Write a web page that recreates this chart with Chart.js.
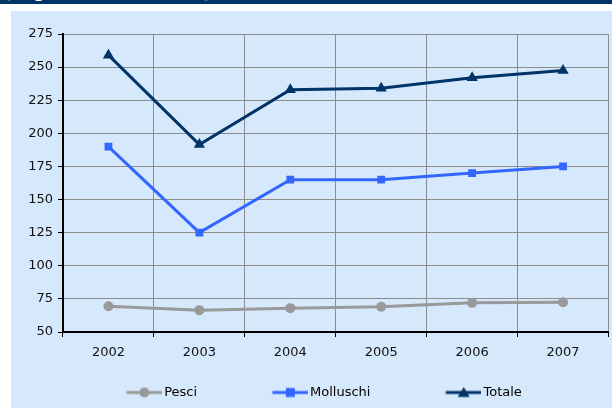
<!DOCTYPE html>
<html>
<head>
<meta charset="utf-8">
<script src="https://cdn.jsdelivr.net/npm/chart.js@4/dist/chart.umd.min.js"></script>
<style>
  html, body { margin: 0; padding: 0; background: #fff; }
  #page { position: relative; width: 612px; height: 408px; overflow: hidden; }
  #band { position: absolute; left: 0; top: 0; width: 612px; height: 4px; background: #003366; overflow: hidden; }
  #band span { position: absolute; left: 4px; top: -16px; font: bold 16px "DejaVu Sans", Verdana, sans-serif; line-height: 18.6px; color: #fff; white-space: nowrap; }
  #panel { position: absolute; left: 11px; top: 11px; width: 601px; height: 397px; background: #D6E8FC; overflow: hidden; }
</style>
</head>
<body>
<div id="page">
  <div id="band"><span>(migliaia di tonnellate)</span></div>
  <div id="panel"><canvas id="chartCanvas" width="604" height="397"></canvas></div>
</div>
<script>
const years = ["2002", "2003", "2004", "2005", "2006", "2007"];
const pesci = [69.5, 66.5, 68, 69, 72, 72.5];
const molluschi = [190, 125, 165, 165, 170, 175];
const totale = [259, 191.5, 233, 234, 242, 247.5];
const yTicks = [50, 75, 100, 125, 150, 175, 200, 225, 250, 275];

const FONT = "'DejaVu Sans', Verdana, sans-serif";
const BOX_W = 96.5;     // legend box width (sets spacing between items)
const LEGEND_SHIFT = 21.5;

// legend sample: line with marker, reaching to just before the label text
function legendSample(color, shape) {
  const c = document.createElement("canvas");
  const iw = BOX_W + 9, w = 36;
  c.width = iw; c.height = 12;
  const g = c.getContext("2d");
  g.strokeStyle = color; g.fillStyle = color; g.lineWidth = 3;
  g.beginPath(); g.moveTo(iw - w, 6); g.lineTo(iw, 6); g.stroke();
  const cx = iw - w / 2;
  g.beginPath();
  if (shape === "circle") g.arc(cx, 6, 5, 0, Math.PI * 2);
  else if (shape === "rect") g.rect(cx - 4.5, 1.5, 9, 9);
  else { g.moveTo(cx, 0.5); g.lineTo(cx + 6, 10.5); g.lineTo(cx - 6, 10.5); g.closePath(); }
  g.fill();
  return c;
}

const series = [
  { label: "Pesci", data: pesci, color: "#999999", shape: "circle", r: 5 },
  { label: "Molluschi", data: molluschi, color: "#3366FF", shape: "rect", r: 5.5 },
  { label: "Totale", data: totale, color: "#003366", shape: "triangle", r: 6.5 },
];

const shiftLegend = {
  id: "shiftLegend",
  afterLayout(chart) {
    if (chart.legend) {
      chart.legend.left -= LEGEND_SHIFT; chart.legend.right -= LEGEND_SHIFT;
      chart.legend.top += 1; chart.legend.bottom += 1;
    }
  },
};

new Chart(document.getElementById("chartCanvas"), {
  type: "line",
  data: {
    labels: years,
    datasets: series.map(s => ({
      label: s.label,
      data: s.data,
      borderColor: s.color,
      backgroundColor: s.color,
      borderWidth: 3,
      pointStyle: s.shape,
      pointRadius: s.r,
      pointBorderWidth: 0,
      pointHoverRadius: s.r,
      tension: 0,
    })),
  },
  options: {
    responsive: false,
    animation: false,
    layout: { padding: { left: 0, right: 0, top: 23, bottom: 0 } },
    plugins: {
      tooltip: { enabled: false },
      legend: {
        position: "bottom",
        labels: {
          usePointStyle: true,
          pointStyleWidth: BOX_W,
          padding: 10,
          color: "#111",
          font: { family: FONT, size: 13 },
          generateLabels: () => series.map((s, i) => ({
            text: s.label,
            datasetIndex: i,
            pointStyle: legendSample(s.color, s.shape),
            fillStyle: s.color,
            strokeStyle: s.color,
            lineWidth: 0,
            hidden: false,
          })),
        },
      },
    },
    scales: {
      x: {
        offset: true,
        grid: { offset: true, color: "#8c8c8c", lineWidth: 1, tickColor: "#000", tickLength: 5 },
        border: { color: "#000", width: 2 },
        ticks: { color: "#111", font: { family: FONT, size: 13 }, padding: 8, maxRotation: 0 },
        afterFit: (s) => { s.height = 43; },
      },
      y: {
        min: 50,
        max: 275,
        afterBuildTicks: (s) => { s.ticks = yTicks.map(v => ({ value: v })); },
        grid: { color: "#8c8c8c", lineWidth: 1, tickColor: "#000", tickLength: 5 },
        border: { color: "#000", width: 2 },
        ticks: { color: "#111", font: { family: FONT, size: 13 }, padding: 5 },
        afterFit: (s) => { s.width = 52; },
      },
    },
  },
  plugins: [shiftLegend],
});
</script>
</body>
</html>
